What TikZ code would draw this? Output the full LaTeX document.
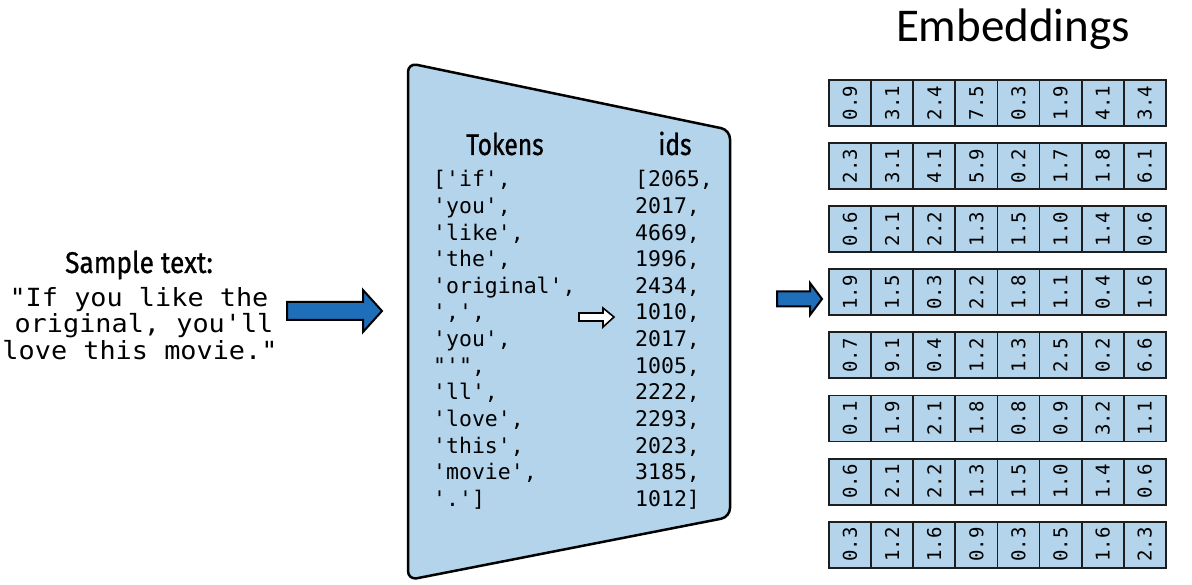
\documentclass[tikz,border=0pt]{standalone}
\usepackage{fontspec}
\usepackage{graphicx}
\setmonofont{DejaVu Sans Mono}
\newfontfamily\headfont{Fira Sans}[FakeStretch=0.82, FakeBold=0.8]
\newfontfamily\embfont{Carlito}
\definecolor{panelblue}{RGB}{179,212,234}
\definecolor{arrowblue}{RGB}{30,110,185}
\definecolor{gridline}{RGB}{30,30,30}
\tikzset{
  codetext/.style={inner sep=0pt, anchor=base west, font=\ttfamily\fontsize{21.5}{26}\selectfont},
  sampletext/.style={inner sep=0pt, anchor=base, font=\ttfamily\fontsize{25}{27}\selectfont},
  headtext/.style={inner sep=0pt, anchor=base, font=\headfont\fontsize{30}{34}\selectfont},
  cell/.style={draw=gridline, line width=1.8pt, fill=panelblue, minimum width=42.1pt, minimum height=46pt, inner sep=0pt, font=\ttfamily\fontsize{19}{20}\selectfont},
  bluearrow/.style={draw=black, line width=2pt, fill=arrowblue, line join=miter},
  hollowarrow/.style={draw=black, line width=1.6pt, fill=white, line join=miter},
  panel/.style={draw=black, line width=2.5pt, fill=panelblue, rounded corners=9pt}
}
\begin{document}
\begin{tikzpicture}[x=1pt,y=-1pt]
\useasboundingbox (0,0) rectangle (1192,585);

% Sample text
\node[headtext] (samplehead) at (139,273) {\scalebox{1.07}[1]{Sample text:}};
\node[sampletext] (s1) at (139,307) {\scalebox{1.075}[1]{"If you like the}};
\node[sampletext] (s2) at (144,333) {\scalebox{1.075}[1]{original, you'll}};
\node[sampletext] (s3) at (140,360) {\scalebox{1.075}[1]{love this movie."}};

% left arrow
\draw[bluearrow] (287,302) -- (363,302) -- (363,290) -- (382,311) -- (363,332) -- (363,320) -- (287,320) -- cycle;

% panel
\draw[panel] (408,63) -- (730,130) -- (730,517) -- (408,580) -- cycle;
\node[headtext] (tokhead) at (505,155) {Tokens};
\node[headtext] (idhead) at (675,155) {ids};

\foreach \t [count=\i] in {{['if',},{'you',},{'like',},{'the',},{'original',},{',',},{'you',},{"'",},{'ll',},{'love',},{'this',},{'movie',},{'.']}}
  \node[codetext] (tok\i) at (433,{187+26.6*(\i-1)}) {\t};
\foreach \t [count=\i] in {{[2065,},{2017,},{4669,},{1996,},{2434,},{1010,},{2017,},{1005,},{2222,},{2293,},{2023,},{3185,},{1012]}}
  \node[codetext] (id\i) at (635,{187+26.6*(\i-1)}) {\t};

% hollow arrow
\draw[hollowarrow] (579,313) -- (603,313) -- (603,308) -- (614,317) -- (603,327) -- (603,321) -- (579,321) -- cycle;

% right arrow
\draw[bluearrow] (777,291.5) -- (810,291.5) -- (810,283) -- (822,299) -- (810,315) -- (810,306.5) -- (777,306.5) -- cycle;

% Embeddings
\node[inner sep=0pt, anchor=base, font=\embfont\fontsize{47}{56}\selectfont] (embtitle) at (1013,42) {Embeddings};

\foreach \row [count=\r] in {
  {0.9,3.1,2.4,7.5,0.3,1.9,4.1,3.4},
  {2.3,3.1,4.1,5.9,0.2,1.7,1.8,6.1},
  {0.6,2.1,2.2,1.3,1.5,1.0,1.4,0.6},
  {1.9,1.5,0.3,2.2,1.8,1.1,0.4,1.6},
  {0.7,9.1,0.4,1.2,1.3,2.5,0.2,6.6},
  {0.1,1.9,2.1,1.8,0.8,0.9,3.2,1.1},
  {0.6,2.1,2.2,1.3,1.5,1.0,1.4,0.6},
  {0.3,1.2,1.6,0.9,0.3,0.5,1.6,2.3}}
  \foreach \v [count=\c] in \row
    \node[cell] (e-\r-\c) at ({829+42.1*(\c-0.5)},{103+63.1*(\r-1)}) {\rotatebox{90}{\v}};

\end{tikzpicture}
\end{document}
